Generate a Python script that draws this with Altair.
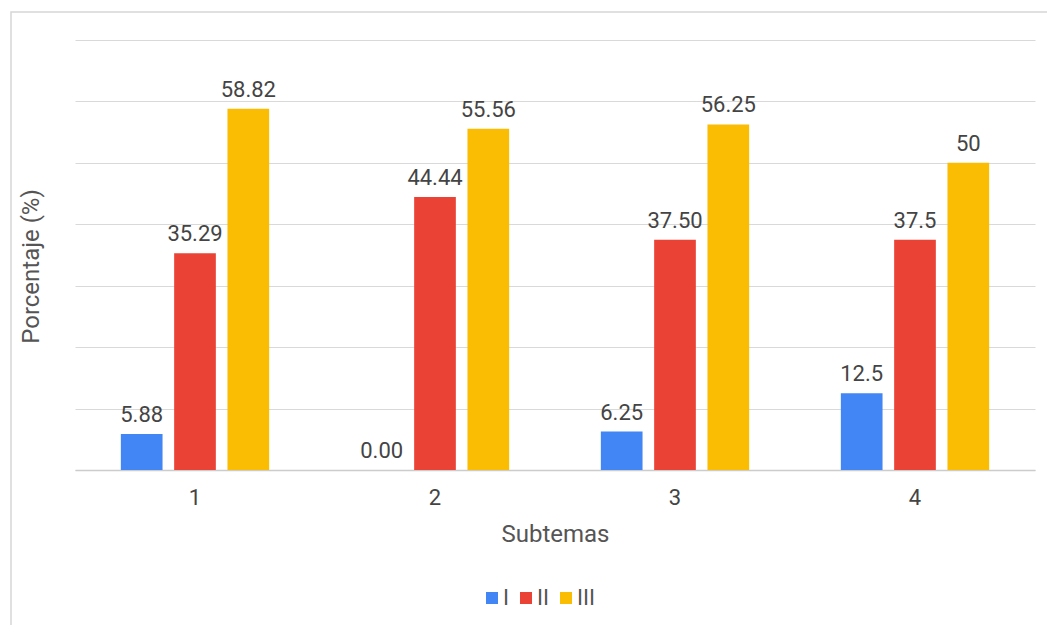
import altair as alt
import pandas as pd

subtemas = ["1", "2", "3", "4"]
series = ["I", "II", "III"]
values_I = [5.88, 0.0, 6.25, 12.5]
values_II = [35.29, 44.44, 37.50, 37.5]
values_III = [58.82, 55.56, 56.25, 50]
labels_I = ["5.88", "0.00", "6.25", "12.5"]
labels_II = ["35.29", "44.44", "37.50", "37.5"]
labels_III = ["58.82", "55.56", "56.25", "50"]
colors = ["#4285F4", "#EA4335", "#FBBC04"]

rows = []
for s, vals, labs in zip(series, [values_I, values_II, values_III], [labels_I, labels_II, labels_III]):
    for sub, v, l in zip(subtemas, vals, labs):
        rows.append({"Subtemas": sub, "Serie": s, "Valor": v, "Etiqueta": l})
df = pd.DataFrame(rows)

FONT = "Roboto"

x_enc = alt.X("Subtemas:N", sort=subtemas,
              scale=alt.Scale(paddingInner=0, paddingOuter=0),
              axis=alt.Axis(title="Subtemas", labelAngle=0, labelFontSize=22,
                            labelColor="#444444", labelFont=FONT,
                            labelPadding=27, labelBaseline="middle",
                            ticks=False, tickSize=0,
                            domain=True, domainColor="#cccccc", domainWidth=1.5,
                            titleFontSize=24, titleFont=FONT, titleColor="#555555",
                            titleFontWeight="normal", titleY=64, titleX=480,
                            titleBaseline="middle", titleAlign="center"))
y_enc = alt.Y("Valor:Q", scale=alt.Scale(domain=[0, 70], nice=False),
              axis=alt.Axis(title="Porcentaje (%)", values=[0, 10, 20, 30, 40, 50, 60, 70],
                            labels=False, ticks=False, domain=False,
                            grid=True, gridColor="#d9d9d9", gridWidth=1.2,
                            titleFontSize=24, titleFont=FONT, titleColor="#555555",
                            titleFontWeight="normal", titleX=-44, titleY=226,
                            titleAngle=-90, titleBaseline="middle", titleAlign="center"))
xoff = alt.XOffset("Serie:N", sort=series,
                   scale=alt.Scale(paddingInner=0.218, paddingOuter=0.86))
color_enc = alt.Color("Serie:N", sort=series,
                      scale=alt.Scale(domain=series, range=colors),
                      legend=alt.Legend(title=None, orient="none", direction="horizontal",
                                        legendX=406, legendY=547,
                                        symbolType="square", symbolSize=144,
                                        symbolStrokeWidth=0, symbolOpacity=1,
                                        labelFontSize=22, labelFont=FONT,
                                        labelColor="#555555", labelOffset=0,
                                        columnPadding=6, padding=0))

bars = alt.Chart(df).mark_bar(opacity=1).encode(
    x=x_enc, y=y_enc, xOffset=xoff, color=color_enc
)
text = alt.Chart(df).mark_text(fontSize=22, font=FONT, color="#444444",
                               baseline="alphabetic", dy=-12).encode(
    x=alt.X("Subtemas:N", sort=subtemas),
    y="Valor:Q",
    xOffset=alt.XOffset("Serie:N", sort=series),
    text="Etiqueta:N",
)
border = alt.Chart(pd.DataFrame({"a": [0]})).mark_rect(
    fill=None, stroke="#d6d6d6", strokeWidth=1.5, clip=False
).encode(x=alt.value(-64), x2=alt.value(985), y=alt.value(-28), y2=alt.value(600))

chart = alt.layer(border, bars, text).properties(
    width=960, height=430,
    background="white",
    autosize=alt.AutoSizeParams(type="none"),
    padding={"left": 75, "top": 40, "right": 12, "bottom": 155},
).configure_view(stroke=None, strokeWidth=0)

chart.save("out.html", embed_options={"renderer": "svg", "actions": False})
